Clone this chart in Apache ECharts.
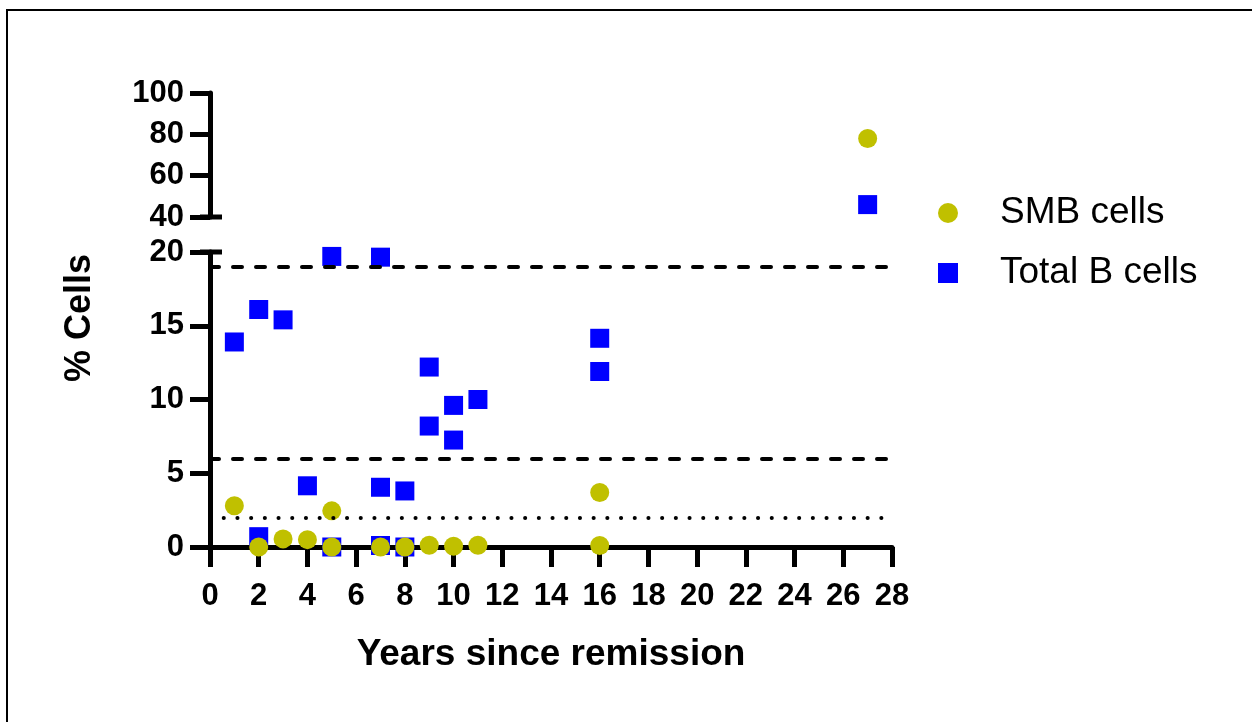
<!DOCTYPE html>
<html>
<head>
<meta charset="utf-8">
<script src="https://cdn.jsdelivr.net/npm/echarts@6/dist/echarts.min.js"></script>
<style>
  html, body { margin: 0; padding: 0; background: #fff; }
  #chart { width: 1252px; height: 722px; }
</style>
</head>
<body>
<div id="chart"></div>
<script>
// Years since remission and percentage values for each cell population
const smbYears   = [1, 2, 3, 4, 5, 5, 7, 8, 9, 10, 11, 16, 16, 27];
const smbValues  = [2.8, 0.0, 0.55, 0.5, 2.45, 0.0, 0.0, 0.0, 0.12, 0.05, 0.12, 3.7, 0.1, 78];
const totalYears  = [1, 2, 2, 3, 4, 5, 5, 7, 7, 7, 8, 8, 9, 9, 10, 10, 11, 16, 16, 27];
const totalValues = [13.9, 16.1, 0.7, 15.4, 4.15, 19.7, 0.0, 19.65, 4.05, 0.1, 3.8, 0.0, 12.2, 8.2, 9.6, 7.25, 10.0, 14.15, 11.9, 46];

// Reference levels drawn across the lower panel
const dashedLevels = [19, 6];
const dottedLevels = [2];

// Broken y axis: lower and upper segments
const lowerRange = [0, 20];
const upperRange = [40, 100];
const xRange = [0, 28];

const seriesNames = ['SMB cells', 'Total B cells'];
const FONT = 'Arial, "Liberation Sans", Helvetica, sans-serif';
const OLIVE = '#c0c000';
const BLUE = '#0000ff';

function pairs(xs, ys, range) {
  const out = [];
  xs.forEach((x, i) => {
    if (ys[i] >= range[0] && ys[i] <= range[1]) out.push([x, ys[i]]);
  });
  return out;
}

const chart = echarts.init(document.getElementById('chart'), null, { renderer: 'canvas' });

const axisLineStyle = { color: '#000', width: 5 };
const tickStyle = { color: '#000', width: 5 };
const labelStyle = { color: '#000', fontFamily: FONT, fontWeight: 'bold', fontSize: 31 };

const refLines = dashedLevels.map(v => ({
  yAxis: v,
  lineStyle: { type: [9, 14], cap: 'round', width: 4, color: '#000' }
})).concat(dottedLevels.map(v => ({
  yAxis: v,
  lineStyle: { type: [0.1, 13.6], cap: 'round', width: 4, color: '#000' }
})));

const option = {
  animation: false,
  backgroundColor: '#fff',
  grid: [
    { left: 210, right: 360, top: 252, bottom: 175 },
    { left: 210, right: 360, top: 93, bottom: 505 }
  ],
  xAxis: [
    {
      gridIndex: 0, type: 'value', min: xRange[0], max: xRange[1], interval: 2,
      axisLine: { show: true, lineStyle: axisLineStyle },
      axisTick: { show: true, inside: false, length: 20, lineStyle: tickStyle },
      axisLabel: Object.assign({ margin: 34 }, labelStyle),
      splitLine: { show: false },
      name: 'Years since remission',
      nameLocation: 'middle',
      nameGap: 89,
      nameTextStyle: { color: '#000', fontFamily: FONT, fontWeight: 'bold', fontSize: 37 }
    },
    {
      gridIndex: 1, type: 'value', min: xRange[0], max: xRange[1], show: false
    }
  ],
  yAxis: [
    {
      gridIndex: 0, type: 'value', min: lowerRange[0], max: lowerRange[1], interval: 5,
      axisLine: { show: true, lineStyle: axisLineStyle },
      axisTick: { show: true, inside: false, length: 20, lineStyle: tickStyle },
      axisLabel: Object.assign({ margin: 26 }, labelStyle),
      splitLine: { show: false }
    },
    {
      gridIndex: 1, type: 'value', min: upperRange[0], max: upperRange[1], interval: 20,
      axisLine: { show: true, lineStyle: axisLineStyle },
      axisTick: { show: true, inside: false, length: 20, lineStyle: tickStyle },
      axisLabel: Object.assign({ margin: 26 }, labelStyle),
      splitLine: { show: false }
    }
  ],
  legend: {
    data: seriesNames,
    orient: 'vertical',
    left: 933,
    top: 188,
    itemWidth: 20,
    itemHeight: 20,
    itemGap: 20,
    textStyle: { color: '#000', fontFamily: FONT, fontSize: 37, lineHeight: 40, padding: [0, 0, 0, 37] }
  },
  series: [
    {
      name: seriesNames[1], type: 'scatter', xAxisIndex: 0, yAxisIndex: 0,
      symbol: 'rect', symbolSize: 19, itemStyle: { color: BLUE, opacity: 1 },
      data: pairs(totalYears, totalValues, lowerRange),
      markLine: { silent: true, symbol: 'none', label: { show: false }, data: refLines }
    },
    {
      name: seriesNames[0], type: 'scatter', xAxisIndex: 0, yAxisIndex: 0,
      symbol: 'circle', symbolSize: 19, itemStyle: { color: OLIVE, opacity: 1 },
      data: pairs(smbYears, smbValues, lowerRange)
    },
    {
      name: seriesNames[1], type: 'scatter', xAxisIndex: 1, yAxisIndex: 1,
      symbol: 'rect', symbolSize: 19, itemStyle: { color: BLUE, opacity: 1 },
      data: pairs(totalYears, totalValues, upperRange)
    },
    {
      name: seriesNames[0], type: 'scatter', xAxisIndex: 1, yAxisIndex: 1,
      symbol: 'circle', symbolSize: 19, itemStyle: { color: OLIVE, opacity: 1 },
      data: pairs(smbYears, smbValues, upperRange)
    }
  ]
};

chart.setOption(option);

// Break caps at the inner ends of both y-axis segments, frame and y title
const axisX = chart.convertToPixel({ xAxisIndex: 0 }, xRange[0]);
const capLower = chart.convertToPixel({ yAxisIndex: 0 }, lowerRange[1]);
const capUpper = chart.convertToPixel({ yAxisIndex: 1 }, upperRange[0]);
const yTop = chart.convertToPixel({ yAxisIndex: 1 }, upperRange[1]);
const yBottom = chart.convertToPixel({ yAxisIndex: 0 }, lowerRange[0]);

chart.setOption({
  graphic: [
    {
      type: 'polyline', silent: true,
      shape: { points: [[7, 722], [7, 10], [1252, 10]] },
      style: { stroke: '#000', lineWidth: 2, fill: null }
    },
    {
      type: 'line', silent: true,
      shape: { x1: axisX - 10, y1: capLower, x2: axisX + 12, y2: capLower },
      style: { stroke: '#000', lineWidth: 5 }
    },
    {
      type: 'line', silent: true,
      shape: { x1: axisX - 10, y1: capUpper, x2: axisX + 12, y2: capUpper },
      style: { stroke: '#000', lineWidth: 5 }
    },
    {
      type: 'text', silent: true,
      x: 80, y: (yTop + yBottom) / 2 - 2,
      rotation: Math.PI / 2,
      style: {
        text: '% Cells', fill: '#000', font: 'bold 36px ' + FONT,
        align: 'center', verticalAlign: 'middle'
      }
    }
  ]
});
</script>
</body>
</html>
